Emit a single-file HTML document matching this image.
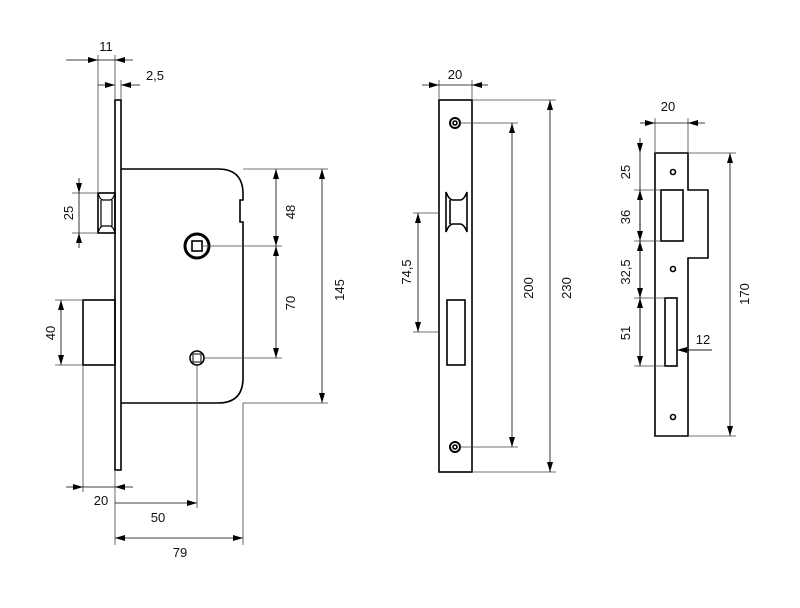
<!DOCTYPE html>
<html><head><meta charset="utf-8"><style>
html,body{margin:0;padding:0;background:#fff}
svg{display:block}
text{font-family:"Liberation Sans",sans-serif;font-size:13px;fill:#111}
</style></head><body>
<svg width="800" height="608" viewBox="0 0 800 608" xmlns="http://www.w3.org/2000/svg">
<defs>
<marker id="a" viewBox="0 0 10 6" refX="10" refY="3" markerWidth="10" markerHeight="6" markerUnits="userSpaceOnUse" orient="auto-start-reverse"><path d="M0,0L10,3L0,6Z" fill="#000"/></marker>
</defs>
<g fill="none" stroke="#000" stroke-width="1.6">
<!-- left lock -->
<rect x="115" y="100" width="6" height="370"/>
<path d="M121,169 H218 Q243,169 243,194 V200 H240 V222 H243 V378 Q243,403 218,403 H121"/>
<rect x="98" y="193" width="17" height="40"/>
<path d="M98,193 Q100,200 103,200 H110 Q113,200 115,193 M98,233 Q100,226 103,226 H110 Q113,226 115,233 M101,200 V226 M112,200 V226" stroke-width="1.2"/>
<rect x="83" y="300" width="32" height="65"/>
<circle cx="197" cy="246" r="12" stroke-width="3"/>
<rect x="192" y="241" width="10" height="10"/>
<circle cx="197" cy="358" r="7"/>
<rect x="193" y="354" width="8" height="8" stroke-width="1"/>
<!-- middle faceplate -->
<rect x="439" y="100" width="33" height="372"/>
<circle cx="455" cy="123" r="5" stroke-width="2"/><circle cx="455" cy="123" r="2"/>
<circle cx="455" cy="447" r="5" stroke-width="2"/><circle cx="455" cy="447" r="2"/>
<path d="M446,192 Q449,200 453,200 H460 Q464,200 467,192 V232 Q464,224 460,224 H453 Q449,224 446,232 Z M450,200 V224"/>
<rect x="447" y="300" width="18" height="65"/>
<!-- strike plate -->
<path d="M655,153 H688 V190 H708 V258 H688 V436 H655 Z"/>
<rect x="661" y="190" width="22" height="51"/>
<rect x="665" y="298" width="12" height="68"/>
<circle cx="673" cy="172" r="2.5"/><circle cx="673" cy="269" r="2.5"/><circle cx="673" cy="417" r="2.5"/>
</g>
<!-- extension lines -->
<g stroke="#444" stroke-width="0.8" fill="none">
<path d="M98,55 V193 M115,55 V100 M121,80 V100"/>
<path d="M72,193 H98 M72,233 H98 M55,300 H83 M55,365 H83"/>
<path d="M243,169 H328 M203,246 H282 M203,358 H282 M243,403 H328"/>
<path d="M83,365 V492 M115,470 V545 M197,365 V508 M243,403 V545"/>
<path d="M439,80 V100 M472,80 V100 M472,100 H556 M460,123 H518 M460,447 H518 M472,472 H556 M413,213 H439 M413,332 H439"/>
<path d="M655,118 V153 M688,118 V153 M688,153 H736 M688,436 H736 M634,190 H661 M634,241 H661 M634,298 H665 M634,366 H665 M677,350 H712"/>
</g>
<!-- dimension lines -->
<g stroke="#000" stroke-width="0.8" fill="none">
<line x1="66" y1="60" x2="98" y2="60" marker-end="url(#a)"/><line x1="133" y1="60" x2="115" y2="60" marker-end="url(#a)"/><line x1="98" y1="60" x2="115" y2="60"/>
<line x1="98" y1="85" x2="115" y2="85" marker-end="url(#a)"/><line x1="140" y1="85" x2="121" y2="85" marker-end="url(#a)"/>
<line x1="79" y1="178" x2="79" y2="193" marker-end="url(#a)"/><line x1="79" y1="248" x2="79" y2="233" marker-end="url(#a)"/><line x1="79" y1="193" x2="79" y2="233"/>
<line x1="61" y1="300" x2="61" y2="365" marker-start="url(#a)" marker-end="url(#a)"/>
<line x1="276" y1="169" x2="276" y2="246" marker-start="url(#a)" marker-end="url(#a)"/>
<line x1="276" y1="246" x2="276" y2="358" marker-start="url(#a)" marker-end="url(#a)"/>
<line x1="322" y1="169" x2="322" y2="403" marker-start="url(#a)" marker-end="url(#a)"/>
<line x1="66" y1="487" x2="83" y2="487" marker-end="url(#a)"/><line x1="133" y1="487" x2="115" y2="487" marker-end="url(#a)"/><line x1="83" y1="487" x2="115" y2="487"/>
<line x1="115" y1="503" x2="197" y2="503" marker-end="url(#a)"/>
<line x1="115" y1="538" x2="243" y2="538" marker-start="url(#a)" marker-end="url(#a)"/>
<line x1="422" y1="85" x2="439" y2="85" marker-end="url(#a)"/><line x1="488" y1="85" x2="472" y2="85" marker-end="url(#a)"/><line x1="439" y1="85" x2="472" y2="85"/>
<line x1="418" y1="213" x2="418" y2="332" marker-start="url(#a)" marker-end="url(#a)"/>
<line x1="512" y1="123" x2="512" y2="447" marker-start="url(#a)" marker-end="url(#a)"/>
<line x1="550" y1="100" x2="550" y2="472" marker-start="url(#a)" marker-end="url(#a)"/>
<line x1="640" y1="123" x2="655" y2="123" marker-end="url(#a)"/><line x1="705" y1="123" x2="688" y2="123" marker-end="url(#a)"/><line x1="655" y1="123" x2="688" y2="123"/>
<line x1="640" y1="138" x2="640" y2="153" marker-end="url(#a)"/>
<line x1="640" y1="153" x2="640" y2="365"/>
<line x1="640" y1="190" x2="640" y2="241" marker-start="url(#a)" marker-end="url(#a)"/>
<line x1="640" y1="241" x2="640" y2="298" marker-start="url(#a)" marker-end="url(#a)"/>
<line x1="640" y1="298" x2="640" y2="366" marker-start="url(#a)" marker-end="url(#a)"/>
<line x1="712" y1="350" x2="677" y2="350" marker-end="url(#a)"/>
<line x1="730" y1="153" x2="730" y2="436" marker-start="url(#a)" marker-end="url(#a)"/>
</g>
<!-- labels -->
<text x="106" y="51" text-anchor="middle">11</text>
<text x="155" y="80" text-anchor="middle">2,5</text>
<text transform="translate(73,213) rotate(-90)" text-anchor="middle">25</text>
<text transform="translate(55,333) rotate(-90)" text-anchor="middle">40</text>
<text transform="translate(295,212) rotate(-90)" text-anchor="middle">48</text>
<text transform="translate(295,303) rotate(-90)" text-anchor="middle">70</text>
<text transform="translate(344,290) rotate(-90)" text-anchor="middle">145</text>
<text x="101" y="505" text-anchor="middle">20</text>
<text x="158" y="522" text-anchor="middle">50</text>
<text x="180" y="557" text-anchor="middle">79</text>
<text x="455" y="79" text-anchor="middle">20</text>
<text transform="translate(411,272) rotate(-90)" text-anchor="middle">74,5</text>
<text transform="translate(533,288) rotate(-90)" text-anchor="middle">200</text>
<text transform="translate(571,288) rotate(-90)" text-anchor="middle">230</text>
<text x="668" y="111" text-anchor="middle">20</text>
<text transform="translate(630,172) rotate(-90)" text-anchor="middle">25</text>
<text transform="translate(630,217) rotate(-90)" text-anchor="middle">36</text>
<text transform="translate(630,272) rotate(-90)" text-anchor="middle">32,5</text>
<text transform="translate(630,333) rotate(-90)" text-anchor="middle">51</text>
<text x="703" y="344" text-anchor="middle">12</text>
<text transform="translate(749,294) rotate(-90)" text-anchor="middle">170</text>
</svg>
</body></html>
